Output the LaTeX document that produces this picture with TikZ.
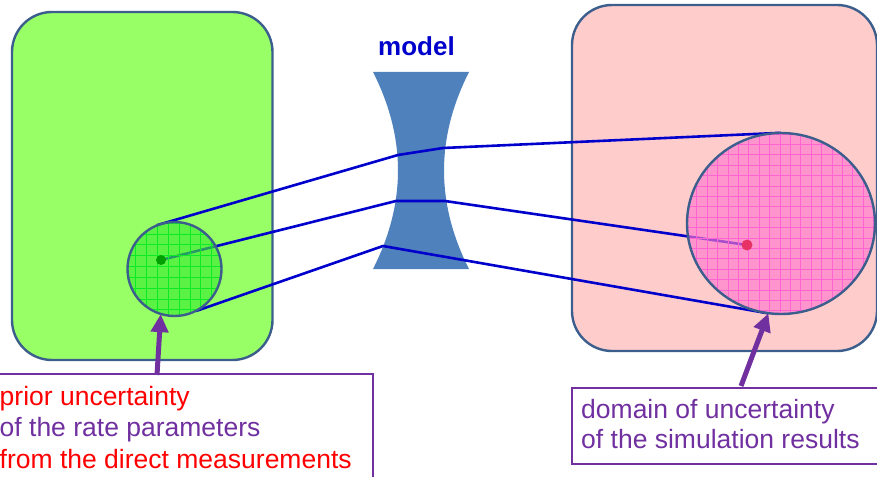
\documentclass[tikz,border=0pt]{standalone}
\usepackage{fontspec}
\setmainfont{Liberation Sans}
\usetikzlibrary{arrows.meta,shapes.geometric}

\definecolor{boxgreen}{RGB}{153,255,102}
\definecolor{boxpink}{RGB}{255,204,204}
\definecolor{edgeblue}{RGB}{59,94,140}
\definecolor{lensblue}{RGB}{79,129,189}
\definecolor{raycol}{RGB}{0,0,204}
\definecolor{notepurple}{RGB}{112,48,160}
\definecolor{notered}{RGB}{255,0,0}
\definecolor{spotgreen}{RGB}{60,236,50}
\definecolor{gridgreen}{RGB}{10,235,40}
\definecolor{spotpink}{RGB}{255,121,205}
\definecolor{gridpink}{RGB}{255,100,210}
\definecolor{dotgreen}{RGB}{0,160,0}
\definecolor{dotpink}{RGB}{230,50,100}

\tikzset{
  region/.style={draw=edgeblue, line width=2.4pt, rounded corners=40pt,
    rectangle, inner sep=0pt, outer sep=0pt},
  spotedge/.style={draw=edgeblue, line width=2.4pt},
  ray/.style={draw=raycol, line width=2.6pt, line join=round},
  notebox/.style={draw=notepurple, line width=2.4pt},
  notetext/.style={anchor=base west, inner sep=0pt, font=\fontsize{26.5}{31}\selectfont},
  pointer/.style={draw=notepurple, line width=5pt,
    -{Triangle[length=18pt,width=17pt]}},
  centre/.style={circle, inner sep=0pt, minimum size=#1},
}

\begin{document}
\begin{tikzpicture}[x=1pt,y=-1pt]
\clip (0,0) rectangle (877,476);

% the two domains
\node[region, fill=boxgreen, minimum width=260.5pt, minimum height=348pt]
  (paramspace) at (142.25,186) {};
\node[region, fill=boxpink, minimum width=305pt, minimum height=346pt]
  (resultspace) at (724.5,178) {};

% the model, drawn as a concave lens
\path[fill=lensblue] (373,72) -- (469,72)
  .. controls (435.7,137.7) and (435.7,203.3) .. (469,269)
  -- (373,269)
  .. controls (406.3,203.3) and (406.3,137.7) .. (373,72) -- cycle;
\node[anchor=base, inner sep=0pt, text=raycol, font=\bfseries\fontsize{26}{30}\selectfont]
  (modellabel) at (416.5,56) {model};

% spots (positions only, drawn below)
\node[centre=94pt] (smallc) at (174.5,269) {};
\node[ellipse, inner sep=0pt, minimum width=188pt, minimum height=181pt]
  (bigc) at (781,223.5) {};
\coordinate (pdot) at (161,260);
\coordinate (rdot) at (747,245);

% points where the rays meet the lens
\coordinate (lensA1) at (398,155);
\coordinate (lensA2) at (443,148);
\coordinate (lensB1) at (396,201);
\coordinate (lensB2) at (445,201);
\coordinate (lensC1) at (383,246);

% rays through the model
\draw[ray] (smallc.112) -- (lensA1) -- (lensA2) -- (bigc.90);
\draw[ray] (pdot) -- (lensB1) -- (lensB2) -- (rdot);
\draw[ray] (smallc.297) -- (lensC1) -- (bigc.262);

% prior uncertainty spot
\fill[spotgreen, fill opacity=0.65] (174.5,269) circle[radius=47pt];
\begin{scope}
  \clip (174.5,269) circle[radius=47pt];
  \begin{scope}[shift={(135.7,223)}]
    \draw[gridgreen, line width=0.7pt, step=10.85pt] (-20,-20) grid (120,120);
  \end{scope}
\end{scope}
\draw[spotedge] (174.5,269) circle[radius=47pt];

% simulation result spot
\fill[spotpink, fill opacity=0.65] (781,223.5) ellipse[x radius=94pt, y radius=90.5pt];
\begin{scope}
  \clip (781,223.5) ellipse[x radius=94pt, y radius=90.5pt];
  \begin{scope}[shift={(696.7,134)}]
    \draw[gridpink, line width=0.7pt, step=10.4pt] (-20,-20) grid (210,200);
  \end{scope}
\end{scope}
\draw[spotedge] (781,223.5) ellipse[x radius=94pt, y radius=90.5pt];

% centre points of the spots
\node[centre=10pt, fill=dotgreen] (pdotmark) at (pdot) {};
\node[centre=11pt, fill=dotpink] (rdotmark) at (rdot) {};

% annotation boxes
\draw[notebox] (-10,374) rectangle (373,490);
\node[notetext, text=notered] (priorA) at (-0.5,405) {prior uncertainty};
\node[notetext, text=notepurple] (priorB) at (-0.5,436.5) {of the rate parameters};
\node[notetext, text=notered] (priorC) at (-0.5,468) {from the direct measurements};

\draw[notebox] (572,388) rectangle (890,464);
\node[notetext, text=notepurple] (resA) at (581,418) {domain of uncertainty};
\node[notetext, text=notepurple] (resB) at (581,448.5) {of the simulation results};

% pointers
\coordinate (tailL) at (157,375);
\coordinate (tailR) at (741,386);
\draw[pointer] (tailL) -- (smallc.253);
\draw[pointer] (tailR) -- (bigc.262);
\end{tikzpicture}
\end{document}
